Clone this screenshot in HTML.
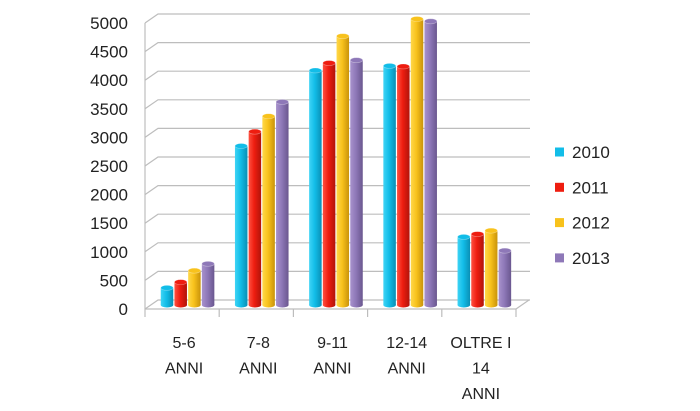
<!DOCTYPE html>
<html><head><meta charset="utf-8"><style>
body{margin:0;background:#fff;}
svg{display:block;font-family:"Liberation Sans",sans-serif;}
</style></head><body>
<svg id="chart" width="700" height="411" viewBox="0 0 700 411">
<defs>
<linearGradient id="g0" x1="0" x2="1"><stop offset="0" stop-color="#3fd4f5"/><stop offset="0.45" stop-color="#12bde8"/><stop offset="1" stop-color="#0a8fb5"/></linearGradient>
<linearGradient id="g1" x1="0" x2="1"><stop offset="0" stop-color="#ff5040"/><stop offset="0.45" stop-color="#ee1d10"/><stop offset="1" stop-color="#b0140a"/></linearGradient>
<linearGradient id="g2" x1="0" x2="1"><stop offset="0" stop-color="#ffd84a"/><stop offset="0.45" stop-color="#f8c21c"/><stop offset="1" stop-color="#c9930a"/></linearGradient>
<linearGradient id="g3" x1="0" x2="1"><stop offset="0" stop-color="#a892cc"/><stop offset="0.45" stop-color="#8e78b8"/><stop offset="1" stop-color="#6a578f"/></linearGradient>
</defs>
<g id="grid"></g>
<g id="bars"></g>
<g id="labels"></g>
<g id="legend"></g>
</svg>
<script>
const categories = [["5-6","ANNI"],["7-8","ANNI"],["9-11","ANNI"],["12-14","ANNI"],["OLTRE I","14","ANNI"]];
const seriesNames = ["2010","2011","2012","2013"];
const s2010 = [300,2780,4100,4180,1190];
const s2011 = [400,3030,4230,4170,1240];
const s2012 = [600,3300,4700,5000,1300];
const s2013 = [720,3550,4280,4960,950];
const yTicks = [0,500,1000,1500,2000,2500,3000,3500,4000,4500,5000];
const colors = ["#12bde8","#ee1d10","#f8c21c","#8e78b8"];

const NS="http://www.w3.org/2000/svg";
function mk(tag,attrs,parent){const e=document.createElementNS(NS,tag);for(const k in attrs)e.setAttribute(k,attrs[k]);parent.appendChild(e);return e;}
const yBack = v => 300 - v*0.0572;
const yFront = v => 309 - v*0.0572;
const xFront0=145, catW=74.2, dx=13, dy=-9;
const grid=document.getElementById('grid');
yTicks.forEach(t=>{
  const l=mk('polyline',{points:`${xFront0},${yFront(t)} ${xFront0+dx},${yBack(t)} 530,${yBack(t)}`,fill:'none',stroke:'#bdbdbd','stroke-width':1.2},grid);
  
  
});
const ax=mk('line',{x1:xFront0,y1:yFront(0),x2:xFront0,y2:yFront(5000),stroke:'#bdbdbd','stroke-width':1.2},grid);


const fl=mk('polyline',{points:`${xFront0},${yFront(0)} ${xFront0+catW*5},${yFront(0)} ${xFront0+catW*5+dx},${yBack(0)}`,fill:'none',stroke:'#bdbdbd','stroke-width':1.2},grid);


for(let i=0;i<=5;i++){
  const t=mk('line',{x1:xFront0+catW*i,y1:yFront(0),x2:xFront0+catW*i,y2:yFront(0)+8,stroke:'#bdbdbd','stroke-width':1.2},grid);
  
  
}
const bars=document.getElementById('bars');
const all=[s2010,s2011,s2012,s2013];
const bw=12.5, base=305;
categories.forEach((c,i)=>{
  all.forEach((s,j)=>{
    const cx=xFront0+catW*i+22+j*13.7;
    const top=base - s[i]*0.0572;
    const g=mk('g',{},bars);
    
    
    mk('rect',{x:cx-bw/2,y:top,width:bw,height:base-top,fill:`url(#g${j})`},g);
    mk('ellipse',{cx:cx,cy:base,rx:bw/2,ry:2.5,fill:`url(#g${j})`},g);
    mk('ellipse',{cx:cx,cy:top,rx:bw/2,ry:2.5,fill:colors[j],stroke:'rgba(255,255,255,0.4)','stroke-width':0.6},g);
  });
});
const labels=document.getElementById('labels');
yTicks.forEach(t=>{
  const e=mk('text',{x:128,y:yFront(t)+6,'text-anchor':'end','font-size':17,fill:'#222'},labels);
  e.textContent=t;
  
  
});
categories.forEach((c,i)=>{
  c.forEach((line,k)=>{
    const e=mk('text',{x:xFront0+catW*i+catW/2+2,y:348+k*25.5,'text-anchor':'middle','font-size':16,fill:'#222'},labels);
    e.textContent=line;
    
    
  });
});
const legend=document.getElementById('legend');
seriesNames.forEach((n,j)=>{
  const g=mk('g',{},legend);
  
  
  const y=152+j*35.3;
  mk('rect',{x:555,y:y-4.5,width:9,height:9,fill:colors[j]},g);
  const t=mk('text',{x:572,y:y+6,'font-size':17,fill:'#222'},g);
  t.textContent=n;
});
</script>
</body></html>
